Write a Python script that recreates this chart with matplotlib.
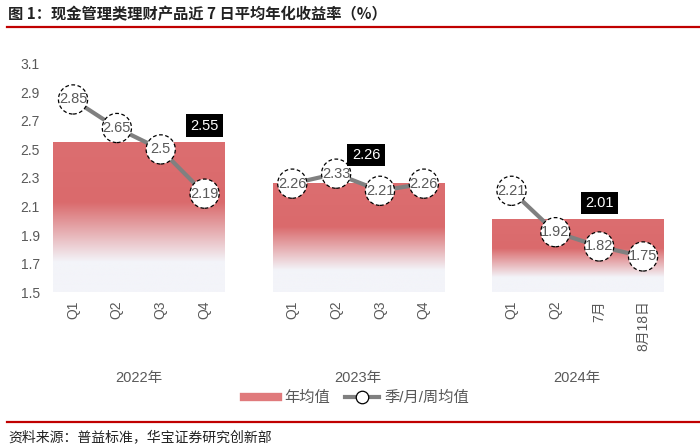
import numpy as np
import matplotlib
matplotlib.use("Agg")
import matplotlib.pyplot as plt
from matplotlib.colors import LinearSegmentedColormap
from matplotlib.lines import Line2D

plt.rcParams['font.family'] = ['Liberation Sans', 'Noto Sans CJK SC', 'DejaVu Sans']

years = ["2022年", "2023年", "2024年"]
tick_labels = [["Q1", "Q2", "Q3", "Q4"],
               ["Q1", "Q2", "Q3", "Q4"],
               ["Q1", "Q2", "7月", "8月18日"]]
period_vals = [[2.85, 2.65, 2.5, 2.19],
               [2.26, 2.33, 2.21, 2.26],
               [2.21, 1.92, 1.82, 1.75]]
year_avg = [2.55, 2.26, 2.01]
# where the black annual-average boxes sit (x index, y value)
avg_label_pos = [(3, 2.665), (6.68, 2.46), (12, 2.125)]

gray = "#595959"
fig = plt.figure(figsize=(7, 4.46), dpi=100)
ax = fig.add_axes([0.073, 0.345, 0.877, 0.512])
ymin, ymax = 1.5, 3.1

cmap = LinearSegmentedColormap.from_list(
    "bar", [(0, "#f3f4f9"), (0.2, "#f3f4f9"), (0.6, "#da6a6c"), (1, "#dc6e70")])

xticks, xlabels = [], []
for g in range(3):
    xs = np.arange(4) + g * 5
    x0, x1 = xs[0] - 0.45, xs[-1] + 0.45
    grad = np.linspace(0, 1, 256).reshape(-1, 1)
    ax.imshow(grad, cmap=cmap, origin="lower", aspect="auto",
              extent=[x0, x1, ymin, year_avg[g]], zorder=1)
    ax.plot(xs, period_vals[g], color="#808080", lw=3, zorder=2,
            solid_capstyle="butt")
    ax.scatter(xs, period_vals[g], s=21 ** 2, facecolors="white",
               edgecolors="black", linewidths=0.9, linestyles=(0, (3, 2)),
               zorder=3)
    for x, v in zip(xs, period_vals[g]):
        ax.text(x, v, f"{v:g}", ha="center", va="center", fontsize=10.5,
                color=gray, zorder=4)
    lx, ly = avg_label_pos[g]
    ax.text(lx, ly, f"{year_avg[g]:.2f}", ha="center", va="center",
            fontsize=10.5, color="white", zorder=5,
            bbox=dict(boxstyle="square,pad=0.3", fc="black", ec="none"))
    fig.text(0.073 + 0.877 * (xs.mean() + 0.5) / 14, 1 - 378 / 446, years[g],
             ha="center", va="center", fontsize=10.5, color=gray)
    xticks += list(xs)
    xlabels += tick_labels[g]

ax.set_xlim(-0.5, 13.5)
ax.set_ylim(ymin, ymax)
ax.set_yticks(np.round(np.arange(1.5, 3.11, 0.2), 1))
ax.set_xticks(xticks)
ax.set_xticklabels(xlabels, rotation=90, fontsize=10, color=gray)
ax.tick_params(axis="y", labelsize=10, colors=gray, length=0, pad=8)
ax.tick_params(axis="x", length=0, pad=6)
for s in ax.spines.values():
    s.set_visible(False)

handles = [Line2D([], [], color="#e07a7c", lw=6),
           Line2D([], [], color="#808080", lw=3, marker="o", ms=9,
                  mfc="white", mec="black", mew=0.9)]
fig.legend(handles, ["年均值", "季/月/周均值"], loc="center",
           bbox_to_anchor=(0.51, 1 - 398 / 446), ncol=2, frameon=False,
           fontsize=11, labelcolor=gray, handlelength=2.2, columnspacing=1.0,
           handletextpad=0.4)

fig.text(0.012, 1 - 14 / 446, "图 1：现金管理类理财产品近 7 日平均年化收益率（%）",
         fontsize=11, fontweight="bold", color="#222222", va="center",
         family=["Noto Sans CJK SC"])
fig.add_artist(Line2D([0.01, 1.0], [1 - 27 / 446] * 2, color="#c00000", lw=1.6))
fig.add_artist(Line2D([0.01, 1.0], [1 - 422 / 446] * 2, color="#c00000", lw=1.6))
fig.text(0.012, 1 - 437 / 446, "资料来源：普益标准，华宝证券研究创新部",
         fontsize=10, color="#222222", va="center", family=["Noto Sans CJK SC"])

fig.savefig("out.png", dpi=100)
